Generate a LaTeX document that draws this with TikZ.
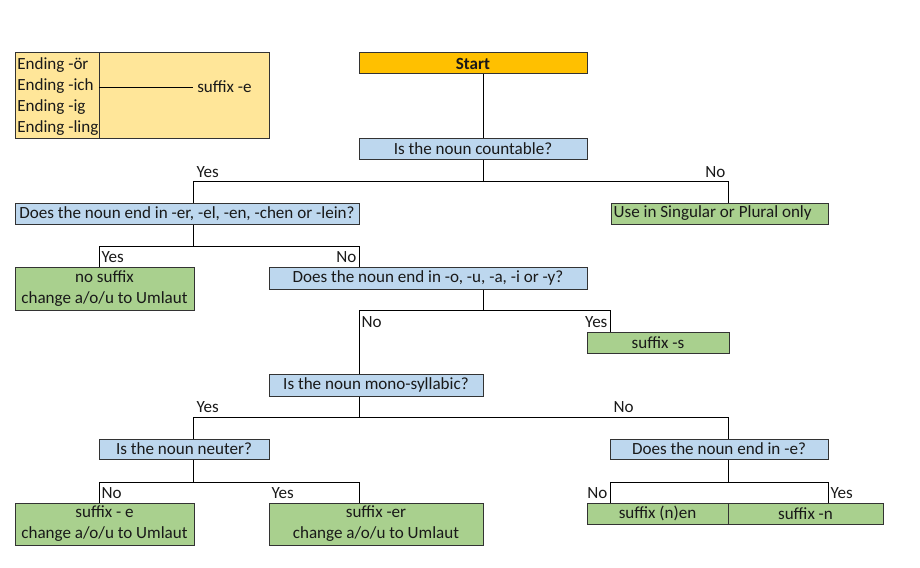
\documentclass[tikz,border=0pt]{standalone}
\usepackage{fontspec}
\setmainfont{Carlito}
\definecolor{orangeC}{HTML}{FFC000}
\definecolor{blueC}{HTML}{BDD7EE}
\definecolor{greenC}{HTML}{A9D08E}
\definecolor{legendC}{HTML}{FFE699}
\begin{document}
\begin{tikzpicture}[x=0.75pt,y=-0.75pt,
  every node/.style={font=\fontsize{12.8}{15.75}\selectfont, text=black!90},
  box/.style={draw=black!80, line width=0.75pt, inner sep=0pt, minimum height=15.75pt, align=center},
  startbox/.style={box, fill=orangeC, font=\fontsize{12.8}{15.75}\selectfont\bfseries},
  qbox/.style={box, fill=blueC},
  abox/.style={box, fill=greenC},
  legbox/.style={box, fill=legendC},
  lab/.style={inner sep=1pt},
  conn/.style={draw=black, line width=0.75pt}]
\useasboundingbox (0,0) rectangle (920,567);
% helper columns and rows
\coordinate (xA) at (99,0);
\coordinate (xB) at (193,0);
\coordinate (xD) at (359,0);
\coordinate (xE) at (483,0);
\coordinate (xF) at (610,0);
\coordinate (xG) at (728,0);
\coordinate (xH) at (828,0);
\coordinate (y1) at (0,181);
\coordinate (y2) at (0,246);
\coordinate (y3) at (0,310);
\coordinate (y4) at (0,417);
\coordinate (y5) at (0,482);

% legend
\node[legbox, minimum width=190.5pt, minimum height=63.75pt] (legend) at (142,95.5) {};
\draw[draw=black!80, line width=0.75pt] (legend.north -| xA) -- (legend.south -| xA);
\node[anchor=west, inner sep=0pt] (l1) at (17,65) {Ending -ör};
\node[anchor=west, inner sep=0pt] (l2) at (17,86.5) {Ending -ich};
\node[anchor=west, inner sep=0pt] (l3) at (17,107.5) {Ending -ig};
\node[anchor=west, inner sep=0pt] (l4) at (17,128.5) {Ending -ling};
\node[anchor=west, inner sep=3pt] (sfx) at (193,87) {suffix -e};
\draw[conn] (sfx.west -| xA) -- (sfx.west);

% nodes
\node[startbox, minimum width=171pt] (start) at (473,63.5) {Start};
\node[qbox, minimum width=171pt] (count) at (473,148.5) {Is the noun countable?};
\node[qbox, minimum width=258pt] (er) at (187,213.5) {Does the noun end in -er, -el, -en, -chen or -lein?};
\node[abox, inner xsep=2pt, text width=158.75pt, align=flush left] (use) at (719.5,213.5) {Use in Singular or Plural only};
\node[abox, minimum width=134.25pt, minimum height=32.25pt] (nos) at (104.5,288.5) {no suffix\\change a/o/u to Umlaut};
\node[qbox, minimum width=238.5pt, minimum height=16.5pt] (oua) at (428,278) {Does the noun end in -o, -u, -a, -i or -y?};
\node[abox, minimum width=106.5pt] (sufs) at (658,342.5) {suffix -s};
\node[qbox, minimum width=160.5pt, minimum height=16.5pt] (mono) at (376,385) {Is the noun mono-syllabic?};
\node[qbox, minimum width=127.5pt, minimum height=15pt] (neut) at (184,449) {Is the noun neuter?};
\node[qbox, minimum width=163.5pt, minimum height=15pt] (ende) at (719,449) {Does the noun end in -e?};
\node[abox, minimum width=134.25pt, minimum height=31.5pt] (sufe) at (104.5,524) {suffix - e\\change a/o/u to Umlaut};
\node[abox, minimum width=160.5pt, minimum height=31.5pt] (sufer) at (376,524) {suffix -er\\change a/o/u to Umlaut};
\node[abox, minimum width=105.75pt] (sufnen) at (657.5,513.5) {suffix (n)en};
\node[abox, minimum width=116.25pt] (sufn) at (805.5,513.5) {suffix -n};

% connectors
\draw[conn] (start.south -| xE) -- (count.north -| xE);
\draw[conn] (count.south -| xE) -- (xE |- y1);
\draw[conn] (er.north -| xB) |- (xG |- y1) -- (use.north -| xG);
\draw[conn] (er.south -| xB) -- (xB |- y2);
\draw[conn] (nos.north -| xA) |- (xD |- y2) -- (oua.north -| xD);
\draw[conn] (oua.south -| xE) -- (xE |- y3);
\draw[conn] (mono.north -| xD) |- (xF |- y3) -- (sufs.north -| xF);
\draw[conn] (mono.south -| xD) -- (xD |- y4);
\draw[conn] (neut.north -| xB) |- (xG |- y4) -- (ende.north -| xG);
\draw[conn] (neut.south -| xB) -- (xB |- y5);
\draw[conn] (sufe.north -| xA) |- (xD |- y5) -- (sufer.north -| xD);
\draw[conn] (ende.south -| xG) -- (xG |- y5);
\draw[conn] (sufnen.north -| xF) |- (xH |- y5) -- (sufn.north -| xH);

% labels
\node[lab, anchor=west] (t1) at (195,172) {Yes};
\node[lab, anchor=east] (t2) at (727,172) {No};
\node[lab, anchor=west] (t3) at (100,257) {Yes};
\node[lab, anchor=east] (t4) at (358,257) {No};
\node[lab, anchor=west] (t5) at (360,322) {No};
\node[lab, anchor=east] (t6) at (609,322) {Yes};
\node[lab, anchor=west] (t7) at (195,407) {Yes};
\node[lab, anchor=west] (t8) at (612,407) {No};
\node[lab, anchor=west] (t9) at (100,493) {No};
\node[lab, anchor=west] (t10) at (270,493) {Yes};
\node[lab, anchor=east] (t11) at (609,493) {No};
\node[lab, anchor=west] (t12) at (829,493) {Yes};
\end{tikzpicture}
\end{document}
